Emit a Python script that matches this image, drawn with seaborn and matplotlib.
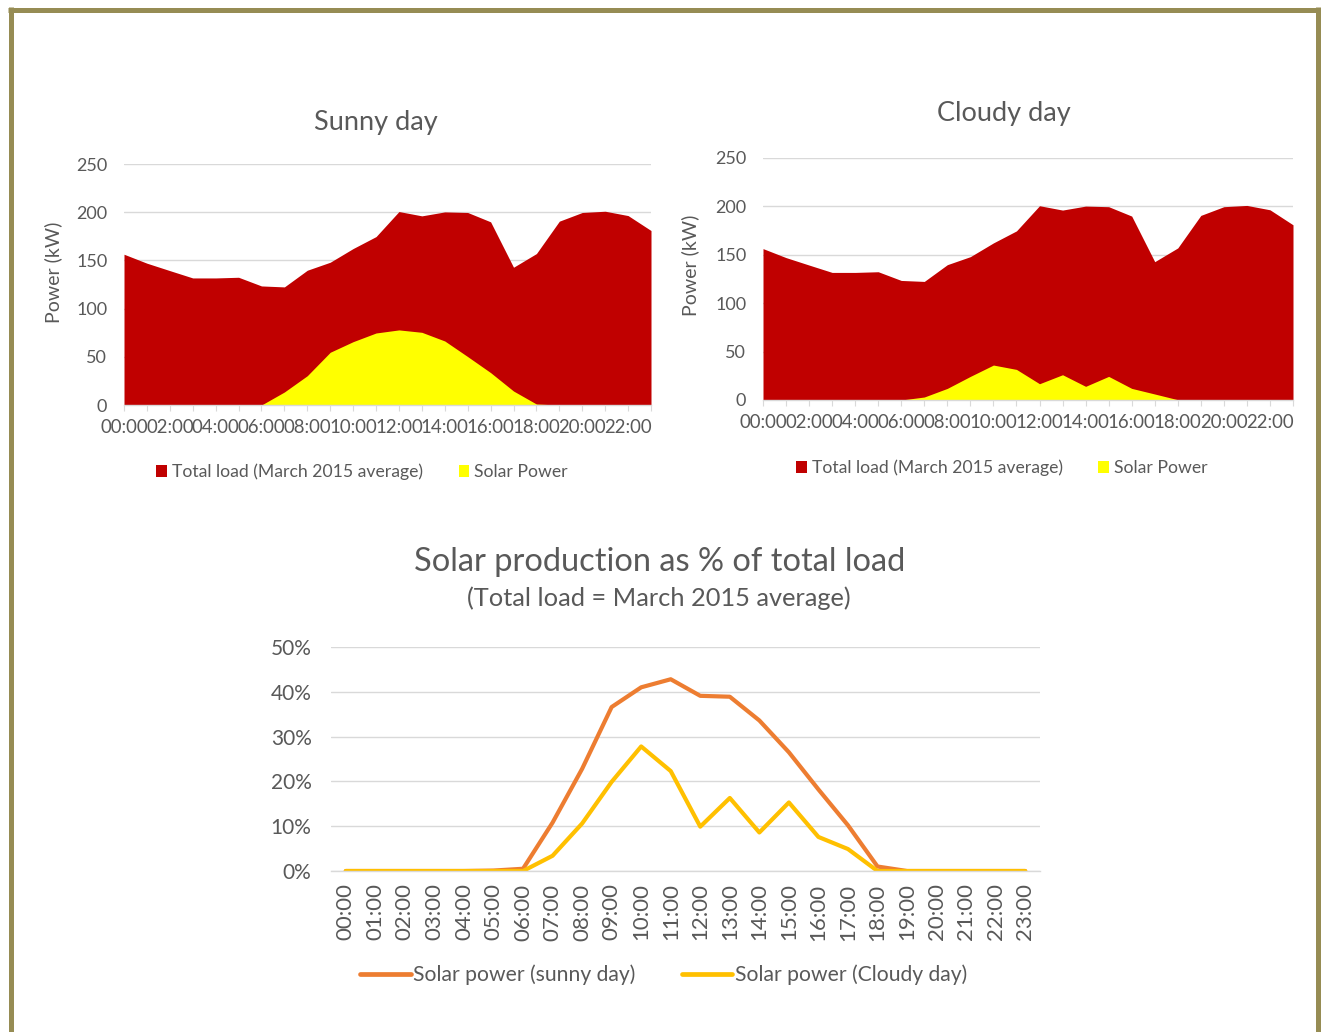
import numpy as np
import pandas as pd
import matplotlib
matplotlib.use("Agg")
import matplotlib.pyplot as plt
from matplotlib.patches import Patch
from matplotlib.lines import Line2D
import seaborn as sns

# ---------------- data ----------------
hours = [f"{h:02d}:00" for h in range(24)]

total_load = [156.4, 147.1, 139.4, 131.8, 131.8, 132.5, 123.5, 122.5, 139.8, 148.1,
              162.3, 174.7, 200.7, 196.2, 200.3, 199.7, 190.0, 142.9, 157.1, 190.7,
              199.7, 201.0, 196.5, 181.0]

solar_sunny = [0, 0, 0, 0, 0, 0, 0, 13.5, 30.4, 54.7,
               65.7, 74.7, 77.9, 75.4, 66.4, 50.2, 33.6, 14.5, 1.0, 0,
               0, 0, 0, 0]

solar_cloudy = [0, 0, 0, 0, 0, 0, 0, 3.1, 12.0, 24.4,
                36.1, 31.6, 16.8, 26.1, 14.1, 24.4, 12.0, 6.2, 0.3, 0,
                0, 0, 0, 0]

pct_sunny = [0, 0, 0, 0, 0, 0.1, 0.5, 10.8, 22.8, 36.6,
             41.0, 42.8, 39.1, 38.9, 33.6, 26.5, 18.2, 10.2, 1.0, 0,
             0, 0, 0, 0]

pct_cloudy = [0, 0, 0, 0, 0, 0, 0, 3.4, 10.6, 19.9,
              27.8, 22.3, 9.9, 16.3, 8.6, 15.3, 7.6, 4.9, 0, 0,
              0, 0, 0, 0]

# ---------------- style ----------------
sns.set_theme(style="white")
plt.rcParams["font.family"] = ["Lato", "DejaVu Sans"]

TXT = "#595959"
GRID = "#D9D9D9"
RED = "#C00000"
YEL = "#FFFF00"
ORANGE = "#ED7D31"
GOLD = "#FFC000"

fig = plt.figure(figsize=(13.22, 10.32), dpi=100)
fig.patch.set_facecolor("white")

W, H = 1322.0, 1032.0


def ax_rect(x0, x1, ytop, ybot):
    return [x0 / W, 1 - ybot / H, (x1 - x0) / W, (ybot - ytop) / H]


x = np.arange(24)


def area_chart(ax, solar, title, tpos, lpos, ylab_pos):
    ax.fill_between(x, 0, total_load, color=RED, linewidth=0)
    ax.fill_between(x, 0, solar, color=YEL, linewidth=0)
    ax.set_xlim(0, 23)
    ax.set_ylim(0, 250)
    ax.set_yticks([0, 50, 100, 150, 200, 250])
    ax.yaxis.grid(True, color=GRID, linewidth=1.0)
    ax.set_axisbelow(True)
    for s in ["top", "right", "left"]:
        ax.spines[s].set_visible(False)
    ax.spines["bottom"].set_color(GRID)
    ax.spines["bottom"].set_linewidth(1.0)
    ax.spines["bottom"].set_zorder(5)
    ax.set_xticks(x, minor=True)
    ax.set_xticks(x[::2])
    ax.set_xticklabels(hours[::2])
    ax.tick_params(axis="x", which="both", bottom=True, length=4, width=0.8,
                   color=GRID, pad=6, labelsize=13.4, labelcolor=TXT)
    ax.tick_params(axis="y", length=0, pad=12, labelsize=13, labelcolor=TXT)
    ax.set_ylabel("Power (kW)", fontsize=14, color=TXT)
    ax.yaxis.set_label_coords(*ylab_pos)
    ax.text(tpos[0], tpos[1], title, transform=ax.transAxes, ha="center",
            va="center", fontsize=19.5, color=TXT)
    handles = [Patch(facecolor=RED, edgecolor="none",
                     label="Total load (March 2015 average)"),
               Patch(facecolor=YEL, edgecolor="none", label="Solar Power")]
    ax.legend(handles=handles, loc="center", bbox_to_anchor=lpos, ncol=2,
              frameon=False, fontsize=12.7, labelcolor=TXT, handlelength=0.6,
              handleheight=0.6, handletextpad=0.3, columnspacing=2.0)


ax1 = fig.add_axes(ax_rect(124, 651, 164, 405))
area_chart(ax1, solar_sunny, "Sunny day", (0.478, 1.174), (0.452, -0.278),
           (-0.118, 0.55))

ax2 = fig.add_axes(ax_rect(763, 1293, 158, 400))
area_chart(ax2, solar_cloudy, "Cloudy day", (0.455, 1.182), (0.451, -0.281),
           (-0.121, 0.558))

# ---------------- bottom line chart ----------------
ax3 = fig.add_axes(ax_rect(331, 1040, 647, 871))
df = pd.DataFrame({
    "pos": list(x) * 2,
    "pct": pct_sunny + pct_cloudy,
    "series": ["Solar power (sunny day)"] * 24 + ["Solar power (Cloudy day)"] * 24,
})
sns.lineplot(data=df, x="pos", y="pct", hue="series",
             palette=[ORANGE, GOLD], linewidth=3.0, ax=ax3, legend=False,
             solid_joinstyle="round", solid_capstyle="round")
ax3.set_xlim(-0.5, 23.5)
ax3.set_ylim(0, 50)
ax3.set_yticks([0, 10, 20, 30, 40, 50])
ax3.set_yticklabels([f"{v}%" for v in [0, 10, 20, 30, 40, 50]])
ax3.set_xticks(x)
ax3.set_xticklabels(hours, rotation=90)
ax3.yaxis.grid(True, color=GRID, linewidth=1.0)
ax3.set_axisbelow(True)
for s in ["top", "right", "left"]:
    ax3.spines[s].set_visible(False)
ax3.spines["bottom"].set_color(GRID)
ax3.spines["bottom"].set_linewidth(1.0)
ax3.set_xlabel("")
ax3.set_ylabel("")
ax3.tick_params(axis="x", length=0, pad=9, labelsize=16, labelcolor=TXT)
ax3.tick_params(axis="y", length=0, pad=14, labelsize=15, labelcolor=TXT)
ax3.text(0.463, 1.379, "Solar production as % of total load",
         transform=ax3.transAxes, ha="center", va="center", fontsize=23.5,
         color=TXT)
ax3.text(0.463, 1.219, "(Total load = March 2015 average)",
         transform=ax3.transAxes, ha="center", va="center", fontsize=18.3,
         color=TXT)
lh = [Line2D([0], [0], color=ORANGE, linewidth=3.4, solid_capstyle="round",
             label="Solar power (sunny day)"),
      Line2D([0], [0], color=GOLD, linewidth=3.4, solid_capstyle="round",
             label="Solar power (Cloudy day)")]
ax3.legend(handles=lh, loc="center", bbox_to_anchor=(0.469, -0.464), ncol=2,
           frameon=False, fontsize=15.2, labelcolor=TXT, handlelength=2.4,
           handletextpad=0.1, columnspacing=2.2)

# ---------------- frame ----------------
BORDER = "#968C54"
lw = 5 * 72 / 100
fig.add_artist(Line2D([10.5 / W, 10.5 / W], [0, 1 - 7 / H], color=BORDER,
                      linewidth=lw, transform=fig.transFigure,
                      solid_capstyle="butt"))
fig.add_artist(Line2D([1317.5 / W, 1317.5 / W], [0, 1 - 7 / H], color=BORDER,
                      linewidth=lw, transform=fig.transFigure,
                      solid_capstyle="butt"))
fig.add_artist(Line2D([8 / W, 1320 / W], [1 - 9.5 / H, 1 - 9.5 / H],
                      color=BORDER, linewidth=lw, transform=fig.transFigure,
                      solid_capstyle="butt"))

fig.savefig("out.png", dpi=100, facecolor="white")
